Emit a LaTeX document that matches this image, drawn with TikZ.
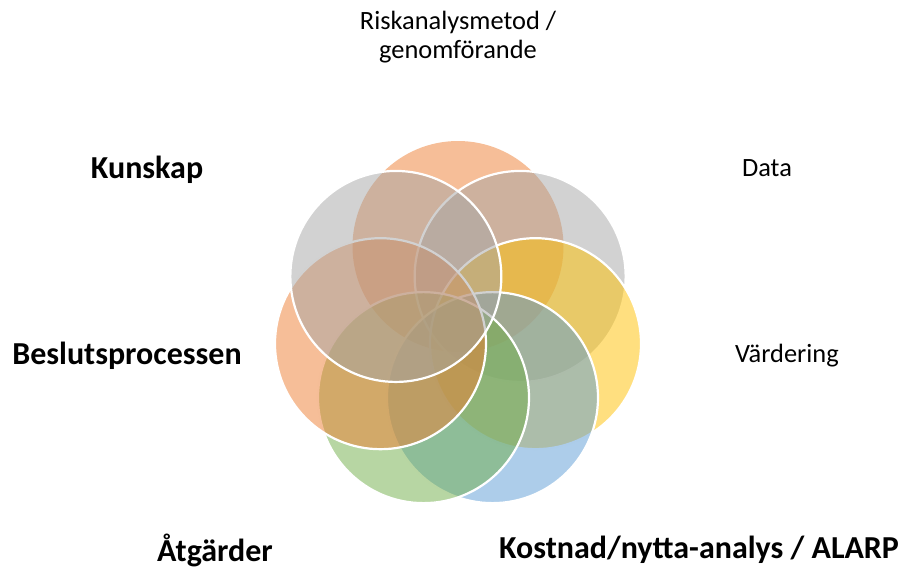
\documentclass[tikz,border=0pt]{standalone}
\usepackage{fontspec}
\setmainfont{Carlito}
\usetikzlibrary{calc}
\definecolor{accOrange}{HTML}{ED7D31}
\definecolor{accGray}{HTML}{A5A5A5}
\definecolor{accGold}{HTML}{FFC000}
\definecolor{accBlue}{HTML}{5B9BD5}
\definecolor{accGreen}{HTML}{70AD47}
\begin{document}
\begin{tikzpicture}[x=1pt,y=-1pt,
  petal/.style={circle, inner sep=0pt, outer sep=0pt, minimum size=211pt,
    fill=#1, fill opacity=0.5, draw=white, line width=2.2pt},
  lbl/.style={font=\fontsize{26.4}{29}\selectfont, align=center, text=black},
  blbl/.style={font=\fontsize{32}{36}\selectfont\bfseries, text=black}]
\useasboundingbox (0,0) rectangle (903,570);
\coordinate (hub) at (458,326);
% seven overlapping circles, clockwise from the top; the top one has no rim
\foreach \ang/\col/\rim [count=\i] in {90/accOrange/0, 38.571/accGray/1,
    -12.857/accGold/1, -64.286/accBlue/1, -115.714/accGreen/1,
    -167.143/accOrange/1, 141.429/accGray/1} {
  \node[petal=\col, draw opacity=\rim] (p\i) at ($(hub)+(-\ang:79.5)$) {};
}
% labels around the flower
\node[lbl] (tRisk) at (458,37) {Riskanalysmetod /\\genomförande};
\node[lbl] (tData) at (767,168) {Data};
\node[lbl] (tVard) at (787,356) {Värdering};
\node[blbl] (tKost) at (699,550) {Kostnad/nytta-analys / ALARP};
\node[blbl] (tAtg) at (215,550) {Åtgärder};
\node[blbl] (tBesl) at (127,356) {Beslutsprocessen};
\node[blbl] (tKun) at (147,170) {Kunskap};
\end{tikzpicture}
\end{document}
